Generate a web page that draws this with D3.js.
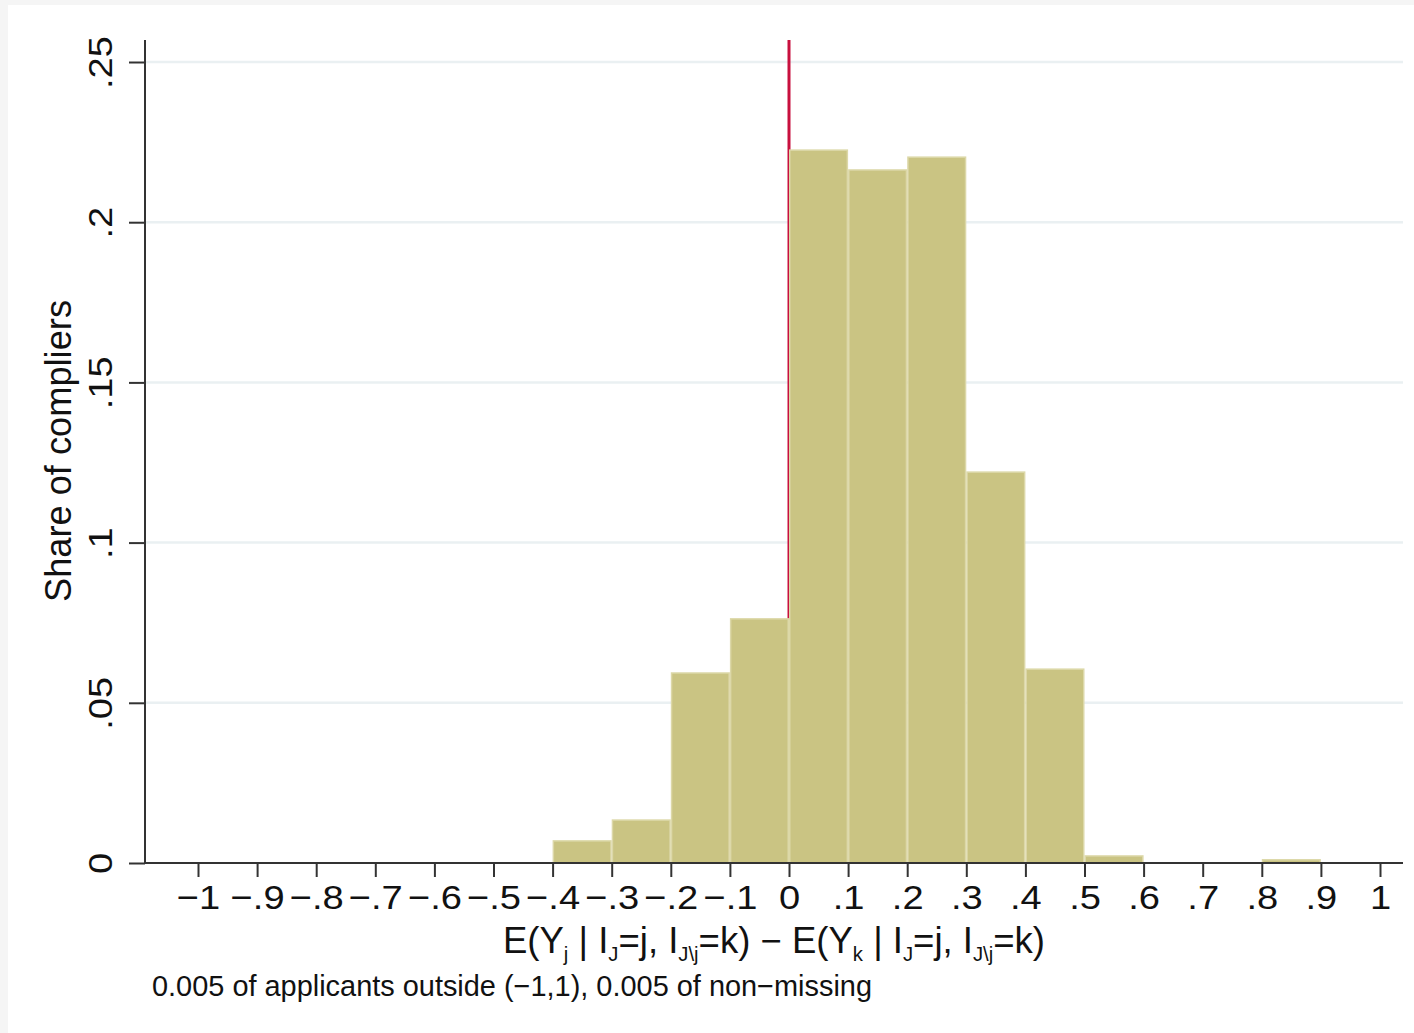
<!DOCTYPE html>
<html><head><meta charset="utf-8">
<script src="https://cdn.jsdelivr.net/npm/d3@7"></script>
<style>
html,body{margin:0;padding:0;background:#f5f5f5;}
svg{display:block;font-family:"Liberation Sans",Arial,sans-serif;}
</style></head>
<body>
<script>
// Data
const binStarts = [-0.4, -0.3, -0.2, -0.1, 0.0, 0.1, 0.2, 0.3, 0.4, 0.5, 0.6, 0.7, 0.8];
const shares    = [0.0069, 0.0134, 0.0593, 0.0762, 0.2225, 0.2163, 0.2203, 0.1220, 0.0605, 0.0022, 0, 0, 0.0010];
const binWidth = 0.1;
const xTicks = [-1,-0.9,-0.8,-0.7,-0.6,-0.5,-0.4,-0.3,-0.2,-0.1,0,0.1,0.2,0.3,0.4,0.5,0.6,0.7,0.8,0.9,1];
const yTicks = [0,0.05,0.1,0.15,0.2,0.25];
const refLineX = 0;
const yTitle = "Share of compliers";
const note = "0.005 of applicants outside (\u22121,1), 0.005 of non\u2212missing";

const W = 1414, H = 1033;
const svg = d3.select("body").append("svg").attr("width", W).attr("height", H);
svg.append("rect").attr("x",0).attr("y",0).attr("width",W).attr("height",H).attr("fill","#f5f5f5");
svg.append("rect").attr("x",8).attr("y",5).attr("width",W-8).attr("height",H-5).attr("fill","#ffffff");

const x = d3.scaleLinear().domain([-1,1]).range([198,1380]);
const y = d3.scaleLinear().domain([0,0.25]).range([863,62]);
const axisLeft = 145, axisRight = 1403, axisTop = 40;

function fmt(v){
  if (v === 0) return "0";
  let s = d3.format("")(+v.toFixed(2));
  s = s.replace("0.", ".").replace("-", "\u2212");
  return s;
}

// gridlines
svg.append("g").selectAll("line").data(yTicks.filter(d=>d>0)).join("line")
  .attr("x1",axisLeft).attr("x2",axisRight)
  .attr("y1",d=>y(d)).attr("y2",d=>y(d))
  .attr("stroke","#eaf0f2").attr("stroke-width",2.5);

// reference line
svg.append("line").attr("x1",x(refLineX)).attr("x2",x(refLineX))
  .attr("y1",axisTop).attr("y2",y(0))
  .attr("stroke","#c8103e").attr("stroke-width",3);

// bars
svg.append("g").selectAll("rect").data(binStarts.map((s,i)=>({s,v:shares[i]})).filter(d=>d.v>0)).join("rect")
  .attr("x",d=>x(d.s)+0.75)
  .attr("width",d=>x(d.s+binWidth)-x(d.s)-1.5)
  .attr("y",d=>y(d.v))
  .attr("height",d=>y(0)-y(d.v))
  .attr("fill","#cac483")
  .attr("stroke","#dcd8a8").attr("stroke-width",1.5);

// x axis
const gx = svg.append("g").attr("transform",`translate(0,${y(0)})`);
gx.append("line").attr("x1",axisLeft).attr("x2",axisRight).attr("y1",0).attr("y2",0)
  .attr("stroke","#333").attr("stroke-width",2);
const xAxis = d3.axisBottom(x).tickValues(xTicks).tickSize(14).tickPadding(8).tickFormat(fmt);
gx.call(xAxis);
gx.select(".domain").remove();
gx.selectAll(".tick line").attr("stroke","#333").attr("stroke-width",2);
gx.selectAll(".tick text").attr("font-size",34).attr("fill","#111")
  .attr("font-family","Liberation Sans, Arial, sans-serif").attr("dy","0.72em")
  .each(function(){
    const n = this.getComputedTextLength();
    d3.select(this).attr("textLength", n*1.12).attr("lengthAdjust","spacingAndGlyphs");
  });

// y axis
const gy = svg.append("g").attr("transform",`translate(${axisLeft},0)`);
gy.append("line").attr("x1",0).attr("x2",0).attr("y1",axisTop).attr("y2",y(0))
  .attr("stroke","#333").attr("stroke-width",2);
const yAxis = d3.axisLeft(y).tickValues(yTicks).tickSize(16).tickFormat(fmt);
gy.call(yAxis);
gy.select(".domain").remove();
gy.selectAll(".tick line").attr("stroke","#333").attr("stroke-width",2);
gy.selectAll(".tick text").remove();
gy.selectAll(".tick").append("text")
  .attr("transform","translate(-45,0) rotate(-90)")
  .attr("text-anchor","middle").attr("dy","0.35em")
  .attr("font-size",34).attr("fill","#111")
  .attr("font-family","Liberation Sans, Arial, sans-serif")
  .text(d=>fmt(d))
  .each(function(){
    const n = this.getComputedTextLength();
    d3.select(this).attr("textLength", n*1.12).attr("lengthAdjust","spacingAndGlyphs");
  });

// y title
svg.append("text").attr("transform","translate(58,451) rotate(-90)")
  .attr("text-anchor","middle").attr("dy","0.35em")
  .attr("font-size",36).attr("fill","#111").text(yTitle)
  .attr("textLength",302).attr("lengthAdjust","spacingAndGlyphs");

// x title with subscripts
const xt = svg.append("text").attr("x",774).attr("y",953).attr("text-anchor","middle")
  .attr("font-size",36).attr("fill","#111");
const parts = [
  ["E(Y",0],["j",1],[" | I",0],["J",1],["=j, I",0],["J\\j",1],["=k) \u2212 E(Y",0],["k",1],[" | I",0],["J",1],["=j, I",0],["J\\j",1],["=k)",0]
];
parts.forEach(([t,sub],i)=>{
  const ts = xt.append("tspan").text(t);
  const prevSub = i>0 ? parts[i-1][1] : 0;
  let dy = 0;
  if (sub && !prevSub) dy = 8;
  if (!sub && prevSub) dy = -8;
  ts.attr("dy", dy);
  if (sub) ts.attr("font-size",20);
});
xt.attr("textLength",542).attr("lengthAdjust","spacingAndGlyphs");

// note
svg.append("text").attr("x",152).attr("y",996).attr("font-size",29).attr("fill","#111").text(note)
  .attr("textLength",720).attr("lengthAdjust","spacingAndGlyphs");
</script>
</body></html>
